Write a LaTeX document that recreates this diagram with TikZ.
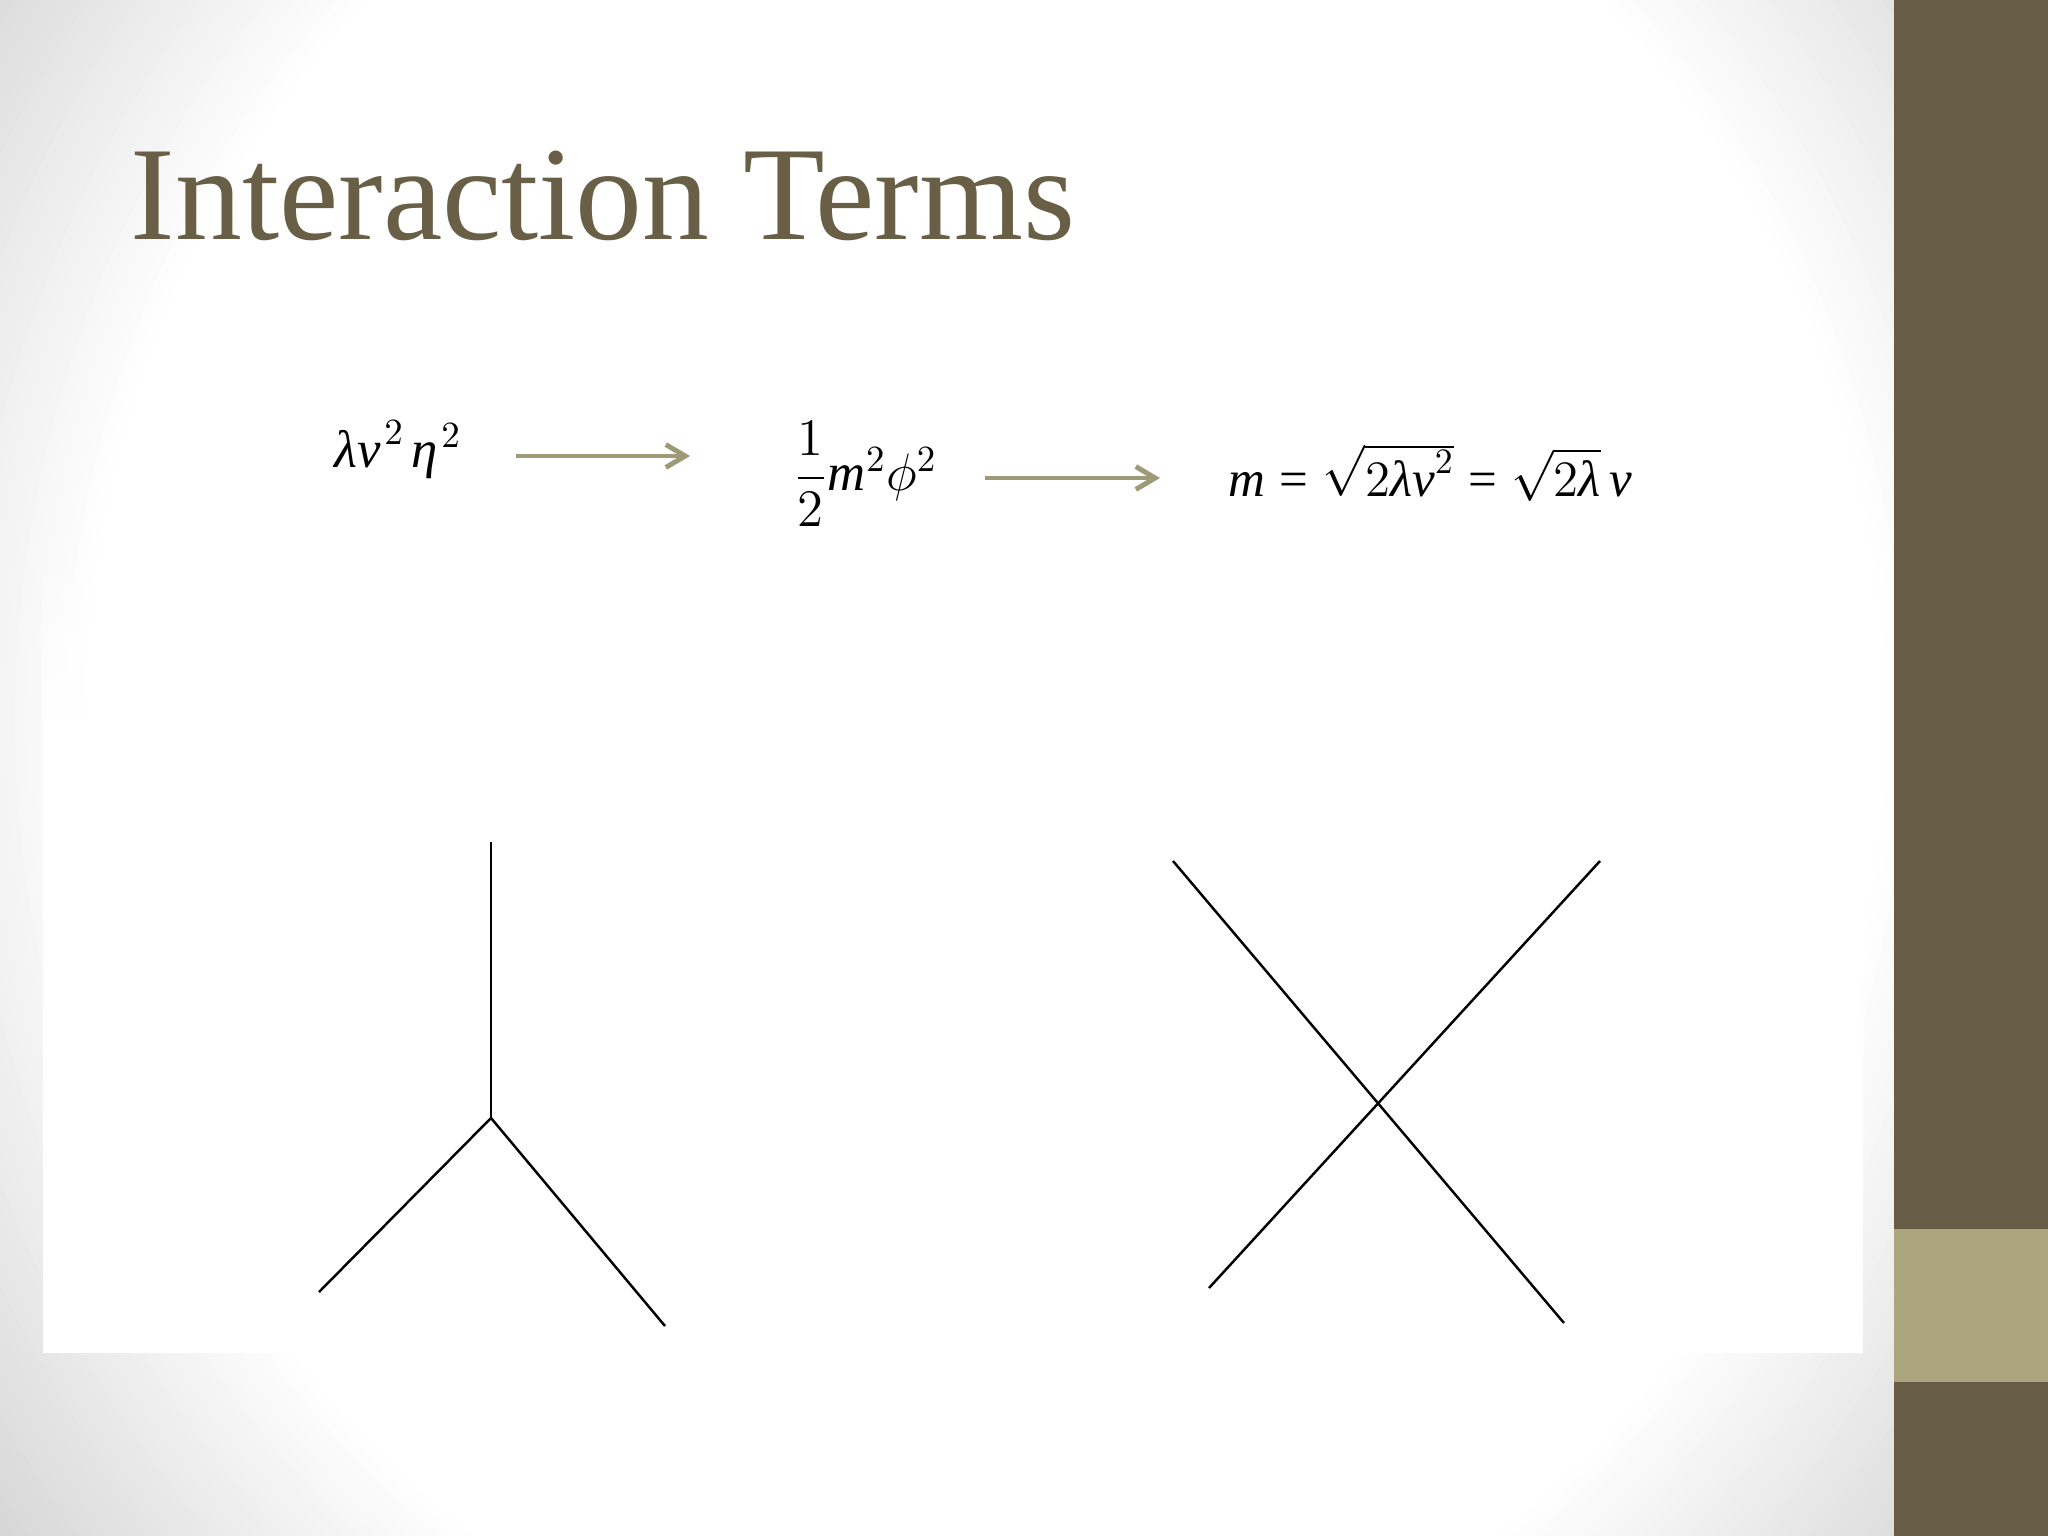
\documentclass[tikz,border=0pt]{standalone}
\usepackage{fix-cm}
\usepackage{amsmath}
\usepackage{fontspec}
\setmainfont{Liberation Serif}
\usetikzlibrary{arrows.meta,fadings}
\definecolor{titlec}{RGB}{104,95,70}
\definecolor{bardark}{RGB}{103,93,71}
\definecolor{barlight}{RGB}{171,166,126}
\definecolor{arrowc}{RGB}{157,154,117}
\definecolor{vgOut}{RGB}{213,213,213}
\newcommand\eqit[1]{\mbox{\itshape #1}}
\newcommand\eqeq{\mathrel{\mbox{=}}}
\tikzset{
  eqn/.style={inner sep=0pt, font=\fontsize{15}{18}\selectfont},
  flow/.style={draw=arrowc, line width=1.4pt, -{Straight Barb[length=5.5pt,width=6.5pt]}},
  prop/.style={draw=black, line width=0.7pt},
}
\begin{document}
\begin{tikzpicture}[x=0.01cm,y=-0.01cm]
\useasboundingbox (0,0) rectangle (2048,1536);
% vignette background
\begin{scope}
  \clip (0,0) rectangle (2048,1536);
  \fill[vgOut] (0,0) rectangle (2048,1536);
  \foreach \r in {1320,1310,...,900}{
    \pgfmathsetmacro\s{max(0,min(1,(\r-900)/350))}
    \pgfmathsetmacro\g{(255-42*\s)/255}
    \pgfmathsetmacro\ry{\r*1.1}
    \definecolor{vgcur}{gray}{\g}
    \fill[vgcur] (985,720) ellipse [x radius=\r, y radius=\ry];
  }
\end{scope}
% pasted white image area, fading in at its top
\fill[white] (43,720) rectangle (1863,1353);
\fill[white, path fading=north] (43,540) rectangle (1863,721);
% right bar
\fill[bardark] (1894,0) rectangle (2048,1536);
\fill[barlight] (1894,1229) rectangle (2048,1382);
% title
\node[anchor=base west, inner sep=0pt, font=\fontsize{38}{45}\selectfont, text=titlec] (title) at (130,239) {Interaction Terms};
% equations
\node[eqn, anchor=base west] (eq1) at (334,467) {$\eqit{λv}^{\hspace{1pt}2}\hspace{2pt}\eqit{η}^{\hspace{1pt}2}$};
\node[eqn, anchor=west] (eq2) at (793,474) {$\dfrac{1}{2}\eqit{m}^{2}\phi^{2}$};
\node[eqn, anchor=base west, font=\fontsize{14.5}{18}\selectfont] (eq3) at (1228,496) {$\eqit{m}\eqeq\sqrt{2\eqit{λv}^{2}}\eqeq\sqrt{2\eqit{λ}}\,\eqit{v}$};
\coordinate (a1s) at (516,456);
\coordinate (a1e) at (690,456);
\coordinate (a2s) at (985,478);
\coordinate (a2e) at (1160,478);
\draw[flow] (a1s) -- (a1e);
\draw[flow] (a2s) -- (a2e);
% three-point vertex
\coordinate (v3) at (491,1118);
\coordinate (v3t) at (491,842);
\coordinate (v3l) at (319,1292);
\coordinate (v3r) at (665,1326);
\draw[prop] (v3t) -- (v3);
\draw[prop] (v3l) -- (v3) -- (v3r);
% four-point vertex
\coordinate (x1) at (1173,861);
\coordinate (x2) at (1564,1323);
\coordinate (x3) at (1600,861);
\coordinate (x4) at (1209,1288);
\draw[prop] (x1) -- (x2);
\draw[prop] (x3) -- (x4);
\end{tikzpicture}
\end{document}
